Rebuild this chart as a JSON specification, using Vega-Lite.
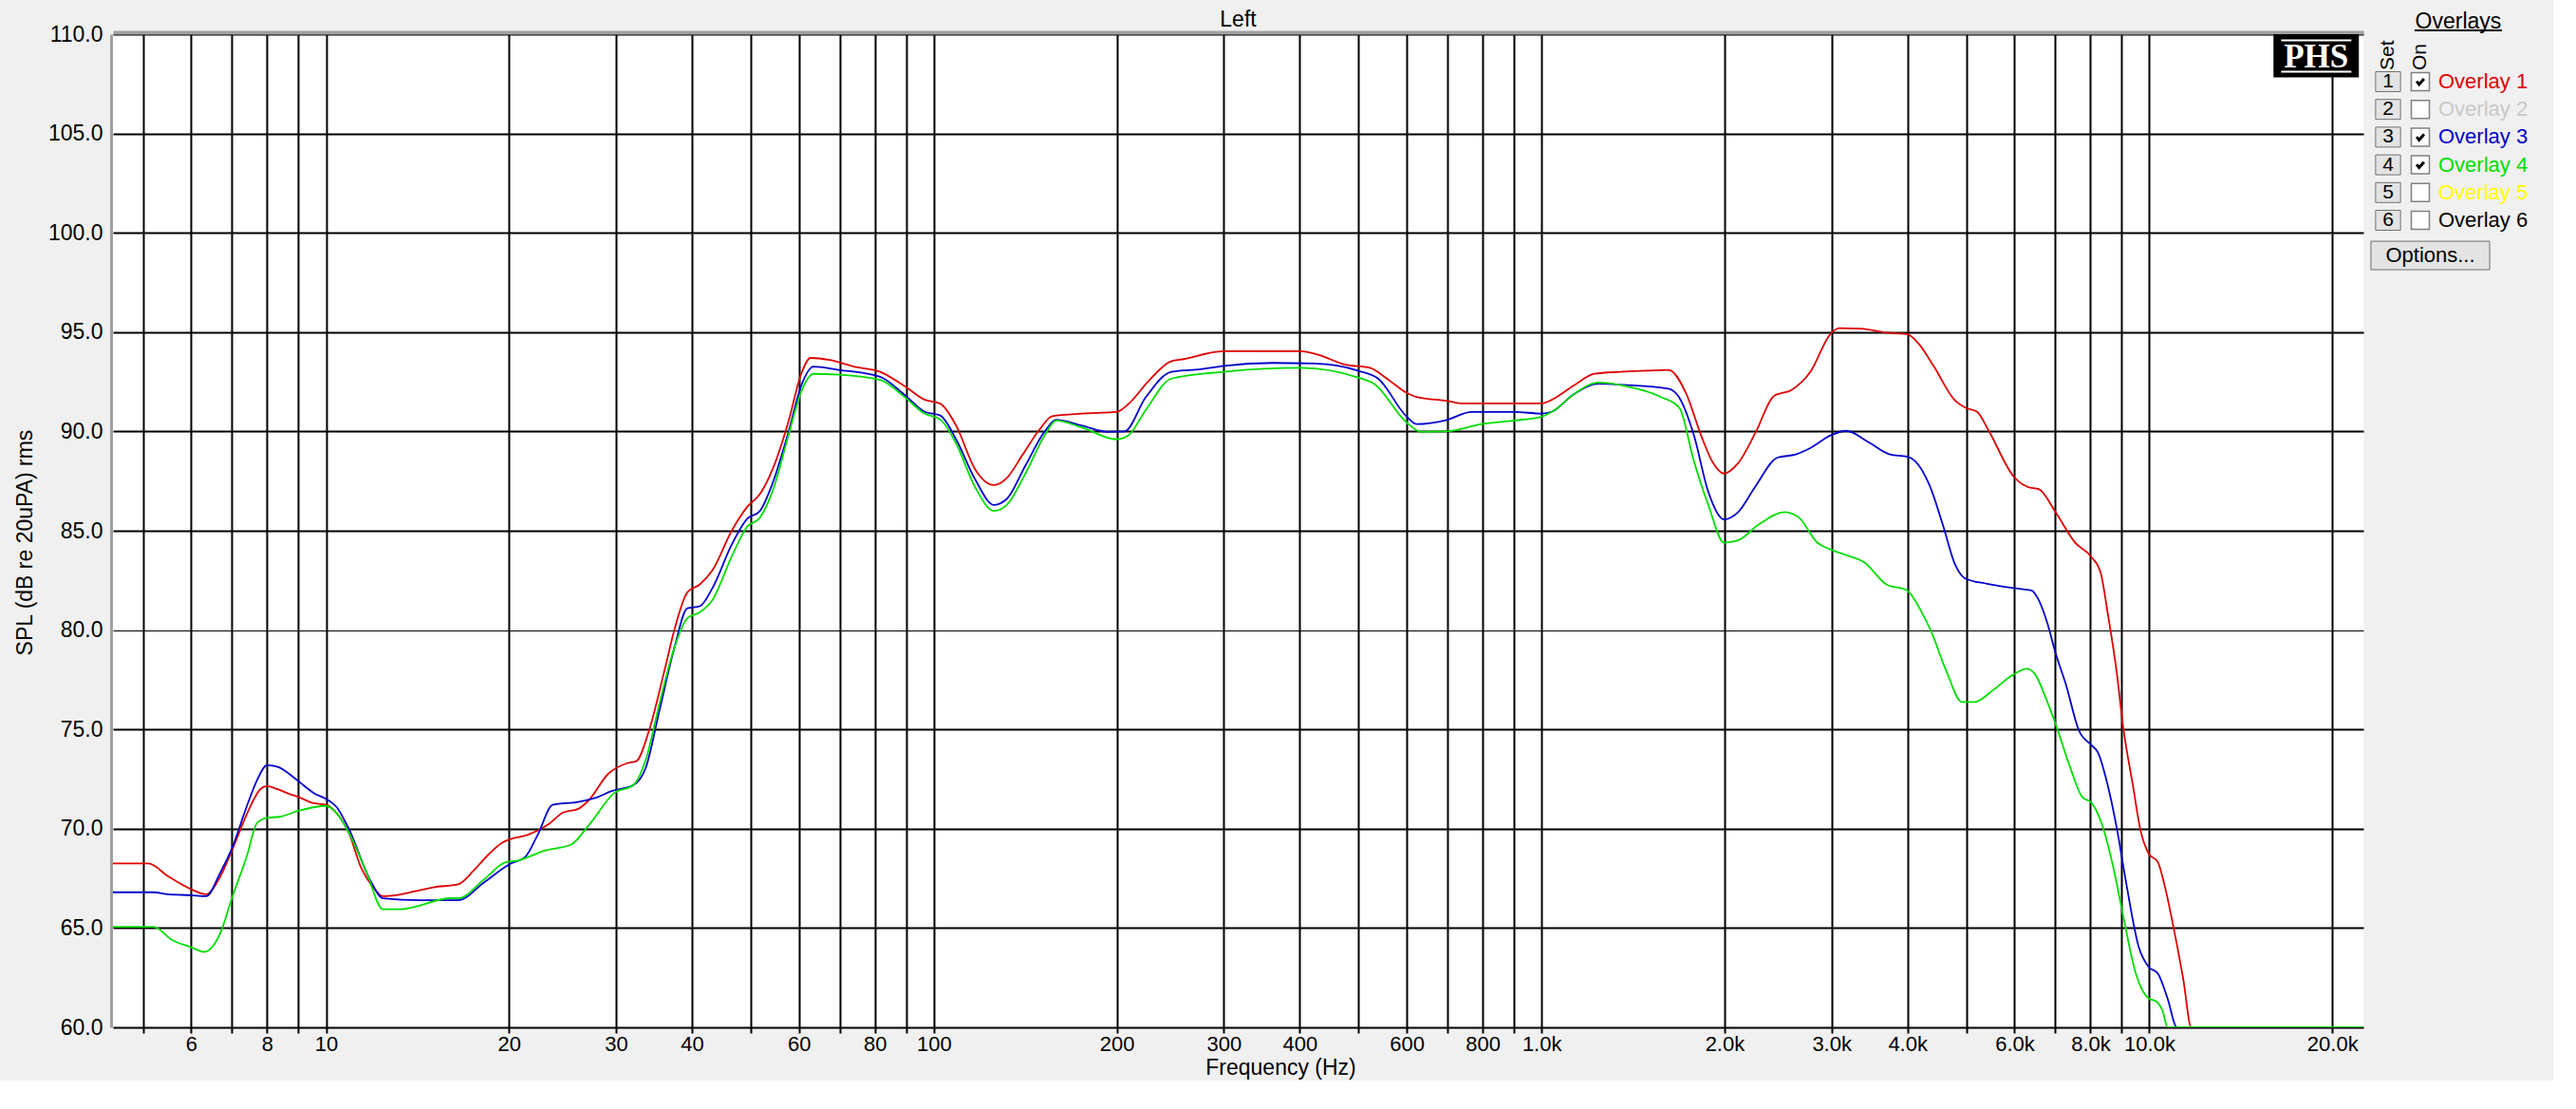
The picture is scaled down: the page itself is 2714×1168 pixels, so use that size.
{
  "$schema": "https://vega.github.io/schema/vega-lite/v6.json",
  "background": "#f0f0f0",
  "padding": {"left": 15, "top": 10, "right": 26, "bottom": 2},
  "autosize": {"type": "pad"},
  "bounds": "flush",
  "spacing": 8,
  "config": {
    "font": "Liberation Sans",
    "view": {"stroke": null},
    "title": {"font": "Liberation Sans"},
    "axis": {"labelFont": "Liberation Sans", "titleFont": "Liberation Sans"}
  },
  "datasets": {
    "spl": [
      {"series":"Overlay 1","freq":4.46,"spl":68.25},{"series":"Overlay 1","freq":5.1,"spl":68.25},{"series":"Overlay 1","freq":5.5,"spl":67.6},{"series":"Overlay 1","freq":6.0,"spl":66.95},{"series":"Overlay 1","freq":6.35,"spl":66.7},{"series":"Overlay 1","freq":6.7,"spl":67.6},{"series":"Overlay 1","freq":7.0,"spl":68.9},{"series":"Overlay 1","freq":7.5,"spl":71.1},{"series":"Overlay 1","freq":7.8,"spl":72.0},{"series":"Overlay 1","freq":8.0,"spl":72.15},{"series":"Overlay 1","freq":8.3,"spl":72.0},{"series":"Overlay 1","freq":8.7,"spl":71.75},{"series":"Overlay 1","freq":9.0,"spl":71.6},{"series":"Overlay 1","freq":9.5,"spl":71.3},{"series":"Overlay 1","freq":10.0,"spl":71.2},{"series":"Overlay 1","freq":10.4,"spl":70.8},{"series":"Overlay 1","freq":10.9,"spl":69.8},{"series":"Overlay 1","freq":11.4,"spl":68.1},{"series":"Overlay 1","freq":12.0,"spl":67.0},{"series":"Overlay 1","freq":12.4,"spl":66.6},{"series":"Overlay 1","freq":13.0,"spl":66.65},{"series":"Overlay 1","freq":14.0,"spl":66.85},{"series":"Overlay 1","freq":15.0,"spl":67.05},{"series":"Overlay 1","freq":16.5,"spl":67.2},{"series":"Overlay 1","freq":17.5,"spl":67.9},{"series":"Overlay 1","freq":18.5,"spl":68.7},{"series":"Overlay 1","freq":19.5,"spl":69.3},{"series":"Overlay 1","freq":20.0,"spl":69.45},{"series":"Overlay 1","freq":21.5,"spl":69.7},{"series":"Overlay 1","freq":23.3,"spl":70.25},{"series":"Overlay 1","freq":24.5,"spl":70.8},{"series":"Overlay 1","freq":26.0,"spl":71.0},{"series":"Overlay 1","freq":27.0,"spl":71.4},{"series":"Overlay 1","freq":29.1,"spl":72.75},{"series":"Overlay 1","freq":31.3,"spl":73.3},{"series":"Overlay 1","freq":32.4,"spl":73.4},{"series":"Overlay 1","freq":34.0,"spl":74.95},{"series":"Overlay 1","freq":36.1,"spl":78.05},{"series":"Overlay 1","freq":37.45,"spl":80.05},{"series":"Overlay 1","freq":39.3,"spl":81.9},{"series":"Overlay 1","freq":41.2,"spl":82.3},{"series":"Overlay 1","freq":43.2,"spl":83.0},{"series":"Overlay 1","freq":46.5,"spl":85.0},{"series":"Overlay 1","freq":49.3,"spl":86.2},{"series":"Overlay 1","freq":51.75,"spl":86.85},{"series":"Overlay 1","freq":54.3,"spl":88.1},{"series":"Overlay 1","freq":57.65,"spl":90.5},{"series":"Overlay 1","freq":60.5,"spl":92.9},{"series":"Overlay 1","freq":62.7,"spl":93.7},{"series":"Overlay 1","freq":67.4,"spl":93.6},{"series":"Overlay 1","freq":74.2,"spl":93.25},{"series":"Overlay 1","freq":81.6,"spl":93.0},{"series":"Overlay 1","freq":89.8,"spl":92.25},{"series":"Overlay 1","freq":96.5,"spl":91.6},{"series":"Overlay 1","freq":102.5,"spl":91.4},{"series":"Overlay 1","freq":108.8,"spl":90.3},{"series":"Overlay 1","freq":116.9,"spl":88.1},{"series":"Overlay 1","freq":125.6,"spl":87.3},{"series":"Overlay 1","freq":131.8,"spl":87.65},{"series":"Overlay 1","freq":140,"spl":88.83},{"series":"Overlay 1","freq":149.3,"spl":90.1},{"series":"Overlay 1","freq":156.6,"spl":90.77},{"series":"Overlay 1","freq":175.3,"spl":90.9},{"series":"Overlay 1","freq":200,"spl":90.98},{"series":"Overlay 1","freq":209,"spl":91.38},{"series":"Overlay 1","freq":225,"spl":92.5},{"series":"Overlay 1","freq":245.5,"spl":93.53},{"series":"Overlay 1","freq":257.6,"spl":93.64},{"series":"Overlay 1","freq":300,"spl":94.04},{"series":"Overlay 1","freq":401,"spl":94.04},{"series":"Overlay 1","freq":430,"spl":93.85},{"series":"Overlay 1","freq":474,"spl":93.37},{"series":"Overlay 1","freq":522,"spl":93.2},{"series":"Overlay 1","freq":557,"spl":92.65},{"series":"Overlay 1","freq":600,"spl":91.94},{"series":"Overlay 1","freq":623,"spl":91.73},{"series":"Overlay 1","freq":698,"spl":91.54},{"series":"Overlay 1","freq":743,"spl":91.41},{"series":"Overlay 1","freq":1000,"spl":91.41},{"series":"Overlay 1","freq":1041,"spl":91.6},{"series":"Overlay 1","freq":1128,"spl":92.3},{"series":"Overlay 1","freq":1222,"spl":92.9},{"series":"Overlay 1","freq":1345,"spl":93.0},{"series":"Overlay 1","freq":1489,"spl":93.06},{"series":"Overlay 1","freq":1617,"spl":93.1},{"series":"Overlay 1","freq":1732,"spl":91.86},{"series":"Overlay 1","freq":1830,"spl":89.8},{"series":"Overlay 1","freq":1908,"spl":88.5},{"series":"Overlay 1","freq":1996,"spl":87.88},{"series":"Overlay 1","freq":2100,"spl":88.36},{"series":"Overlay 1","freq":2250,"spl":89.95},{"series":"Overlay 1","freq":2410,"spl":91.78},{"series":"Overlay 1","freq":2582,"spl":92.1},{"series":"Overlay 1","freq":2766,"spl":92.98},{"series":"Overlay 1","freq":2987,"spl":94.9},{"series":"Overlay 1","freq":3087,"spl":95.2},{"series":"Overlay 1","freq":3353,"spl":95.18},{"series":"Overlay 1","freq":3692,"spl":94.97},{"series":"Overlay 1","freq":3993,"spl":94.9},{"series":"Overlay 1","freq":4178,"spl":94.4},{"series":"Overlay 1","freq":4414,"spl":93.3},{"series":"Overlay 1","freq":4795,"spl":91.54},{"series":"Overlay 1","freq":4977,"spl":91.2},{"series":"Overlay 1","freq":5208,"spl":90.99},{"series":"Overlay 1","freq":5427,"spl":90.1},{"series":"Overlay 1","freq":5993,"spl":87.7},{"series":"Overlay 1","freq":6315,"spl":87.2},{"series":"Overlay 1","freq":6580,"spl":87.1},{"series":"Overlay 1","freq":7000,"spl":85.97},{"series":"Overlay 1","freq":7551,"spl":84.4},{"series":"Overlay 1","freq":8020,"spl":83.7},{"series":"Overlay 1","freq":8314,"spl":82.9},{"series":"Overlay 1","freq":8546,"spl":80.8},{"series":"Overlay 1","freq":8844,"spl":77.8},{"series":"Overlay 1","freq":9057,"spl":75.1},{"series":"Overlay 1","freq":9389,"spl":72.25},{"series":"Overlay 1","freq":9674,"spl":69.9},{"series":"Overlay 1","freq":9968,"spl":68.76},{"series":"Overlay 1","freq":10334,"spl":68.3},{"series":"Overlay 1","freq":10585,"spl":67.2},{"series":"Overlay 1","freq":10973,"spl":64.95},{"series":"Overlay 1","freq":11375,"spl":62.4},{"series":"Overlay 1","freq":11721,"spl":60.0},{"series":"Overlay 1","freq":22400,"spl":60.0},

      {"series":"Overlay 3","freq":4.46,"spl":66.8},{"series":"Overlay 3","freq":5.2,"spl":66.8},{"series":"Overlay 3","freq":5.5,"spl":66.7},{"series":"Overlay 3","freq":6.0,"spl":66.65},{"series":"Overlay 3","freq":6.35,"spl":66.6},{"series":"Overlay 3","freq":6.7,"spl":67.8},{"series":"Overlay 3","freq":7.0,"spl":69.0},{"series":"Overlay 3","freq":7.4,"spl":71.1},{"series":"Overlay 3","freq":7.7,"spl":72.45},{"series":"Overlay 3","freq":8.0,"spl":73.2},{"series":"Overlay 3","freq":8.35,"spl":73.1},{"series":"Overlay 3","freq":8.66,"spl":72.8},{"series":"Overlay 3","freq":9.0,"spl":72.4},{"series":"Overlay 3","freq":9.6,"spl":71.75},{"series":"Overlay 3","freq":10.0,"spl":71.5},{"series":"Overlay 3","freq":10.4,"spl":71.1},{"series":"Overlay 3","freq":10.9,"spl":70.0},{"series":"Overlay 3","freq":11.8,"spl":67.45},{"series":"Overlay 3","freq":12.4,"spl":66.5},{"series":"Overlay 3","freq":14.3,"spl":66.4},{"series":"Overlay 3","freq":16.5,"spl":66.4},{"series":"Overlay 3","freq":18.2,"spl":67.3},{"series":"Overlay 3","freq":20.0,"spl":68.2},{"series":"Overlay 3","freq":21.3,"spl":68.6},{"series":"Overlay 3","freq":22.3,"spl":69.7},{"series":"Overlay 3","freq":23.6,"spl":71.2},{"series":"Overlay 3","freq":26.0,"spl":71.35},{"series":"Overlay 3","freq":27.8,"spl":71.56},{"series":"Overlay 3","freq":29.5,"spl":71.9},{"series":"Overlay 3","freq":32.05,"spl":72.2},{"series":"Overlay 3","freq":33.6,"spl":73.1},{"series":"Overlay 3","freq":35.3,"spl":75.85},{"series":"Overlay 3","freq":37.45,"spl":79.15},{"series":"Overlay 3","freq":39.3,"spl":81.1},{"series":"Overlay 3","freq":41.2,"spl":81.2},{"series":"Overlay 3","freq":43.2,"spl":82.1},{"series":"Overlay 3","freq":46.5,"spl":84.3},{"series":"Overlay 3","freq":49.3,"spl":85.6},{"series":"Overlay 3","freq":51.75,"spl":86.0},{"series":"Overlay 3","freq":54.3,"spl":87.4},{"series":"Overlay 3","freq":57.65,"spl":89.96},{"series":"Overlay 3","freq":60.5,"spl":92.3},{"series":"Overlay 3","freq":63.4,"spl":93.26},{"series":"Overlay 3","freq":69.8,"spl":93.1},{"series":"Overlay 3","freq":81.6,"spl":92.75},{"series":"Overlay 3","freq":89.8,"spl":91.8},{"series":"Overlay 3","freq":96.5,"spl":91.0},{"series":"Overlay 3","freq":102.5,"spl":90.8},{"series":"Overlay 3","freq":108.8,"spl":89.6},{"series":"Overlay 3","freq":116.9,"spl":87.6},{"series":"Overlay 3","freq":125.6,"spl":86.3},{"series":"Overlay 3","freq":131.8,"spl":86.6},{"series":"Overlay 3","freq":141.6,"spl":88.3},{"series":"Overlay 3","freq":152.2,"spl":90.0},{"series":"Overlay 3","freq":159,"spl":90.58},{"series":"Overlay 3","freq":175,"spl":90.3},{"series":"Overlay 3","freq":193,"spl":89.98},{"series":"Overlay 3","freq":206,"spl":90.0},{"series":"Overlay 3","freq":223,"spl":91.7},{"series":"Overlay 3","freq":246,"spl":93.0},{"series":"Overlay 3","freq":275,"spl":93.13},{"series":"Overlay 3","freq":300,"spl":93.3},{"series":"Overlay 3","freq":361,"spl":93.45},{"series":"Overlay 3","freq":424,"spl":93.42},{"series":"Overlay 3","freq":500,"spl":93.05},{"series":"Overlay 3","freq":539,"spl":92.65},{"series":"Overlay 3","freq":600,"spl":90.74},{"series":"Overlay 3","freq":623,"spl":90.37},{"series":"Overlay 3","freq":698,"spl":90.58},{"series":"Overlay 3","freq":767,"spl":90.98},{"series":"Overlay 3","freq":902,"spl":90.98},{"series":"Overlay 3","freq":1000,"spl":90.9},{"series":"Overlay 3","freq":1041,"spl":91.0},{"series":"Overlay 3","freq":1128,"spl":91.86},{"series":"Overlay 3","freq":1242,"spl":92.4},{"series":"Overlay 3","freq":1367,"spl":92.34},{"series":"Overlay 3","freq":1617,"spl":92.15},{"series":"Overlay 3","freq":1685,"spl":91.7},{"series":"Overlay 3","freq":1781,"spl":89.8},{"series":"Overlay 3","freq":1882,"spl":86.93},{"series":"Overlay 3","freq":1996,"spl":85.57},{"series":"Overlay 3","freq":2100,"spl":85.9},{"series":"Overlay 3","freq":2250,"spl":87.25},{"series":"Overlay 3","freq":2443,"spl":88.68},{"series":"Overlay 3","freq":2618,"spl":88.84},{"series":"Overlay 3","freq":2766,"spl":89.16},{"series":"Overlay 3","freq":2987,"spl":89.8},{"series":"Overlay 3","freq":3173,"spl":90.03},{"series":"Overlay 3","freq":3447,"spl":89.47},{"series":"Overlay 3","freq":3743,"spl":88.84},{"series":"Overlay 3","freq":3993,"spl":88.73},{"series":"Overlay 3","freq":4121,"spl":88.5},{"series":"Overlay 3","freq":4354,"spl":87.25},{"series":"Overlay 3","freq":4570,"spl":85.33},{"series":"Overlay 3","freq":4795,"spl":83.27},{"series":"Overlay 3","freq":4977,"spl":82.6},{"series":"Overlay 3","freq":5411,"spl":82.33},{"series":"Overlay 3","freq":6026,"spl":82.1},{"series":"Overlay 3","freq":6400,"spl":82.0},{"series":"Overlay 3","freq":6555,"spl":81.6},{"series":"Overlay 3","freq":6795,"spl":80.35},{"series":"Overlay 3","freq":7000,"spl":78.9},{"series":"Overlay 3","freq":7300,"spl":77.2},{"series":"Overlay 3","freq":7657,"spl":74.95},{"series":"Overlay 3","freq":8035,"spl":74.2},{"series":"Overlay 3","freq":8229,"spl":73.84},{"series":"Overlay 3","freq":8531,"spl":72.25},{"series":"Overlay 3","freq":8844,"spl":70.0},{"series":"Overlay 3","freq":9168,"spl":67.2},{"series":"Overlay 3","freq":9616,"spl":64.0},{"series":"Overlay 3","freq":9968,"spl":63.05},{"series":"Overlay 3","freq":10334,"spl":62.7},{"series":"Overlay 3","freq":10713,"spl":61.46},{"series":"Overlay 3","freq":11105,"spl":60.0},{"series":"Overlay 3","freq":22400,"spl":60.0},

      {"series":"Overlay 4","freq":4.46,"spl":65.06},{"series":"Overlay 4","freq":5.2,"spl":65.06},{"series":"Overlay 4","freq":5.58,"spl":64.4},{"series":"Overlay 4","freq":6.0,"spl":64.03},{"series":"Overlay 4","freq":6.3,"spl":63.8},{"series":"Overlay 4","freq":6.7,"spl":64.75},{"series":"Overlay 4","freq":7.0,"spl":66.5},{"series":"Overlay 4","freq":7.42,"spl":68.7},{"series":"Overlay 4","freq":7.7,"spl":70.3},{"series":"Overlay 4","freq":8.0,"spl":70.55},{"series":"Overlay 4","freq":8.4,"spl":70.6},{"series":"Overlay 4","freq":9.0,"spl":70.9},{"series":"Overlay 4","freq":10.0,"spl":71.15},{"series":"Overlay 4","freq":10.4,"spl":70.8},{"series":"Overlay 4","freq":10.9,"spl":69.8},{"series":"Overlay 4","freq":11.66,"spl":67.8},{"series":"Overlay 4","freq":12.4,"spl":65.95},{"series":"Overlay 4","freq":13.25,"spl":65.95},{"series":"Overlay 4","freq":16.05,"spl":66.5},{"series":"Overlay 4","freq":16.5,"spl":66.5},{"series":"Overlay 4","freq":18.2,"spl":67.45},{"series":"Overlay 4","freq":19.7,"spl":68.3},{"series":"Overlay 4","freq":20.7,"spl":68.4},{"series":"Overlay 4","freq":22.9,"spl":68.9},{"series":"Overlay 4","freq":25.3,"spl":69.2},{"series":"Overlay 4","freq":27.1,"spl":70.2},{"series":"Overlay 4","freq":29.8,"spl":71.8},{"series":"Overlay 4","freq":32.05,"spl":72.2},{"series":"Overlay 4","freq":33.6,"spl":73.5},{"series":"Overlay 4","freq":35.3,"spl":76.2},{"series":"Overlay 4","freq":37.45,"spl":79.15},{"series":"Overlay 4","freq":39.3,"spl":80.6},{"series":"Overlay 4","freq":41.2,"spl":80.9},{"series":"Overlay 4","freq":43.2,"spl":81.5},{"series":"Overlay 4","freq":46.5,"spl":83.7},{"series":"Overlay 4","freq":49.3,"spl":85.2},{"series":"Overlay 4","freq":51.75,"spl":85.66},{"series":"Overlay 4","freq":54.3,"spl":87.0},{"series":"Overlay 4","freq":57.65,"spl":89.8},{"series":"Overlay 4","freq":60.5,"spl":92.0},{"series":"Overlay 4","freq":63.4,"spl":92.9},{"series":"Overlay 4","freq":69.8,"spl":92.86},{"series":"Overlay 4","freq":81.6,"spl":92.6},{"series":"Overlay 4","freq":89.8,"spl":91.7},{"series":"Overlay 4","freq":96.5,"spl":90.9},{"series":"Overlay 4","freq":102.5,"spl":90.6},{"series":"Overlay 4","freq":108.8,"spl":89.4},{"series":"Overlay 4","freq":116.9,"spl":87.2},{"series":"Overlay 4","freq":125.6,"spl":86.0},{"series":"Overlay 4","freq":131.8,"spl":86.3},{"series":"Overlay 4","freq":141.6,"spl":87.9},{"series":"Overlay 4","freq":152.2,"spl":89.8},{"series":"Overlay 4","freq":159,"spl":90.55},{"series":"Overlay 4","freq":175,"spl":90.2},{"series":"Overlay 4","freq":200,"spl":89.6},{"series":"Overlay 4","freq":209,"spl":89.8},{"series":"Overlay 4","freq":223,"spl":91.06},{"series":"Overlay 4","freq":246,"spl":92.66},{"series":"Overlay 4","freq":300,"spl":93.0},{"series":"Overlay 4","freq":401,"spl":93.2},{"series":"Overlay 4","freq":500,"spl":92.7},{"series":"Overlay 4","freq":530,"spl":92.4},{"series":"Overlay 4","freq":600,"spl":90.45},{"series":"Overlay 4","freq":633,"spl":89.98},{"series":"Overlay 4","freq":698,"spl":90.0},{"series":"Overlay 4","freq":797,"spl":90.37},{"series":"Overlay 4","freq":902,"spl":90.55},{"series":"Overlay 4","freq":1000,"spl":90.74},{"series":"Overlay 4","freq":1058,"spl":91.14},{"series":"Overlay 4","freq":1128,"spl":91.86},{"series":"Overlay 4","freq":1242,"spl":92.46},{"series":"Overlay 4","freq":1367,"spl":92.3},{"series":"Overlay 4","freq":1574,"spl":91.73},{"series":"Overlay 4","freq":1685,"spl":91.2},{"series":"Overlay 4","freq":1781,"spl":88.5},{"series":"Overlay 4","freq":1882,"spl":86.27},{"series":"Overlay 4","freq":1996,"spl":84.4},{"series":"Overlay 4","freq":2100,"spl":84.5},{"series":"Overlay 4","freq":2281,"spl":85.33},{"series":"Overlay 4","freq":2511,"spl":85.94},{"series":"Overlay 4","freq":2654,"spl":85.65},{"series":"Overlay 4","freq":2843,"spl":84.4},{"series":"Overlay 4","freq":2987,"spl":84.06},{"series":"Overlay 4","freq":3173,"spl":83.77},{"series":"Overlay 4","freq":3400,"spl":83.4},{"series":"Overlay 4","freq":3692,"spl":82.3},{"series":"Overlay 4","freq":3993,"spl":82.0},{"series":"Overlay 4","freq":4207,"spl":80.98},{"series":"Overlay 4","freq":4361,"spl":80.03},{"series":"Overlay 4","freq":4630,"spl":77.97},{"series":"Overlay 4","freq":4917,"spl":76.38},{"series":"Overlay 4","freq":5157,"spl":76.38},{"series":"Overlay 4","freq":5542,"spl":77.0},{"series":"Overlay 4","freq":5954,"spl":77.73},{"series":"Overlay 4","freq":6286,"spl":78.05},{"series":"Overlay 4","freq":6477,"spl":77.8},{"series":"Overlay 4","freq":6795,"spl":76.38},{"series":"Overlay 4","freq":7041,"spl":75.1},{"series":"Overlay 4","freq":7387,"spl":73.2},{"series":"Overlay 4","freq":7752,"spl":71.6},{"series":"Overlay 4","freq":8035,"spl":71.3},{"series":"Overlay 4","freq":8328,"spl":70.35},{"series":"Overlay 4","freq":8737,"spl":67.97},{"series":"Overlay 4","freq":9057,"spl":65.6},{"series":"Overlay 4","freq":9502,"spl":62.7},{"series":"Overlay 4","freq":9968,"spl":61.46},{"series":"Overlay 4","freq":10271,"spl":61.3},{"series":"Overlay 4","freq":10522,"spl":60.8},{"series":"Overlay 4","freq":10713,"spl":60.0},{"series":"Overlay 4","freq":22400,"spl":60.0}
    ],
    "overlays": [
      {"n":1,"series":"Overlay 1","on":true},
      {"n":2,"series":"Overlay 2","on":false},
      {"n":3,"series":"Overlay 3","on":true},
      {"n":4,"series":"Overlay 4","on":true},
      {"n":5,"series":"Overlay 5","on":false},
      {"n":6,"series":"Overlay 6","on":false}
    ]
  },
  "hconcat": [
    {
      "width": 2371,
      "height": 1046,
      "view": {"fill": "white", "stroke": null},
      "title": {"text": "Left", "frame": "group", "anchor": "middle", "fontSize": 23, "fontWeight": "normal", "color": "black", "baseline": "alphabetic", "offset": -26},
      "resolve": {"axis": {"x": "independent"}},
      "layer": [
        {
          "data": {"name": "spl"},
          "mark": {"type": "line", "strokeWidth": 1.8, "clip": true, "interpolate": "monotone"},
          "encoding": {
            "x": {
              "field": "freq", "type": "quantitative",
              "scale": {"type": "log", "domain": [4.46, 22500], "nice": false},
              "axis": {
                "orient": "bottom",
                "values": [5,6,7,8,9,10,20,30,40,50,60,70,80,90,100,200,300,400,500,600,700,800,900,1000,2000,3000,4000,5000,6000,7000,8000,9000,10000,20000],
                "labelExpr": "indexof([5,7,9,50,70,90,500,700,900,5000,7000,9000], datum.value) >= 0 ? '' : (datum.value >= 1000 ? format(datum.value / 1000, '.1f') + 'k' : format(datum.value, 'd'))",
                "grid": true, "gridColor": "black", "gridWidth": 2, "gridOpacity": 1,
                "ticks": true, "tickColor": "black", "tickWidth": 2, "tickSize": 6,
                "domain": false,
                "labelFontSize": 22, "labelColor": "black", "labelPadding": 1,
                "labelOverlap": false, "labelBound": false, "labelFlush": false,
                "title": "Frequency (Hz)", "titleFontSize": 23, "titleFontWeight": "normal", "titleColor": "black",
                "titleX": 1230, "titleY": 49, "titleBaseline": "alphabetic", "titleAlign": "center"
              }
            },
            "y": {
              "field": "spl", "type": "quantitative",
              "scale": {"domain": [60, 110], "nice": false, "zero": false},
              "axis": {
                "values": [60,65,70,75,80,85,90,95,100,105,110],
                "format": ".1f",
                "grid": true, "gridColor": "black", "gridOpacity": 1,
                "gridWidth": {"condition": {"test": "datum.value === 80", "value": 1}, "value": 2},
                "ticks": false, "tickSize": 0,
                "domain": true, "domainColor": "#a0a0a0", "domainWidth": 3, "offset": 2,
                "labelFontSize": 23, "labelColor": "black", "labelPadding": 9,
                "title": "SPL (dB re 20uPA) rms", "titleFontSize": 23, "titleFontWeight": "normal", "titleColor": "black",
                "titleX": -91, "titleY": 535, "titleAngle": 270, "titleAlign": "center", "titleBaseline": "middle"
              }
            },
            "color": {
              "field": "series", "type": "nominal",
              "scale": {"domain": ["Overlay 1","Overlay 2","Overlay 3","Overlay 4","Overlay 5","Overlay 6"], "range": ["#dd0000","#c8c8c8","#0000cc","#00dd00","#ffff00","#000000"]},
              "legend": null
            }
          }
        },
        {
          "data": {"values": [{}]},
          "mark": {"type": "rect", "color": "black"},
          "encoding": {
            "x": {"datum": 16005, "type": "quantitative", "axis": {"orient": "top", "labels": false, "ticks": false, "grid": false, "domain": true, "domainColor": "#a0a0a0", "domainWidth": 4, "offset": 2, "title": null}},
            "x2": {"datum": 22117},
            "y": {"datum": 110, "type": "quantitative"},
            "y2": {"datum": 107.83}
          }
        },
        {
          "data": {"values": [{}]},
          "mark": {"type": "text", "text": "PHS", "font": "Liberation Serif", "fontWeight": "bold", "fontSize": 35, "color": "white", "align": "center", "baseline": "alphabetic"},
          "encoding": {
            "x": {"datum": 18815, "type": "quantitative", "axis": null},
            "y": {"datum": 108.35, "type": "quantitative"}
          }
        },
        {
          "data": {"values": [{}]},
          "mark": {"type": "rule", "color": "white", "strokeWidth": 2},
          "encoding": {
            "x": {"datum": 16480, "type": "quantitative", "axis": null},
            "x2": {"datum": 21500},
            "y": {"datum": 109.69, "type": "quantitative"}
          }
        },
        {
          "data": {"values": [{}]},
          "mark": {"type": "rule", "color": "white", "strokeWidth": 2},
          "encoding": {
            "x": {"datum": 16480, "type": "quantitative", "axis": null},
            "x2": {"datum": 21500},
            "y": {"datum": 108.11, "type": "quantitative"}
          }
        }
      ]
    },
    {
      "width": 104,
      "height": 260,
      "view": {"stroke": null},
      "data": {"name": "overlays"},
      "layer": [
        {
          "mark": {"type": "point", "shape": "M-1.25,-1H1.25V1H-1.25Z", "size": 441, "filled": true, "fill": "#e3e3e3", "stroke": "#707070", "strokeWidth": 1, "opacity": 1},
          "encoding": {
            "x": {"datum": "set", "type": "nominal", "scale": {"type": "point", "domain": ["set","on","label"], "padding": 0.53}, "axis": null},
            "y": {"field": "n", "type": "quantitative", "scale": {"domain": [-0.712, 8.192], "reverse": true, "nice": false, "zero": false}, "axis": null}
          }
        },
        {
          "mark": {"type": "text", "fontSize": 21, "color": "black", "align": "center", "baseline": "middle"},
          "encoding": {
            "x": {"datum": "set", "type": "nominal"},
            "y": {"field": "n", "type": "quantitative"},
            "text": {"field": "n", "type": "quantitative", "format": "d"}
          }
        },
        {
          "mark": {"type": "point", "shape": "M-1,-1H1V1H-1Z", "size": 361, "filled": true, "fill": "white", "stroke": "#808080", "strokeWidth": 1.5, "opacity": 1},
          "encoding": {
            "x": {"datum": "on", "type": "nominal"},
            "y": {"field": "n", "type": "quantitative"}
          }
        },
        {
          "transform": [{"filter": "datum.on"}],
          "mark": {"type": "point", "shape": "M-0.6,-0.05L-0.2,0.45L0.6,-0.45", "size": 169, "filled": false, "stroke": "black", "strokeWidth": 3, "opacity": 1},
          "encoding": {
            "x": {"datum": "on", "type": "nominal"},
            "y": {"field": "n", "type": "quantitative"}
          }
        },
        {
          "mark": {"type": "text", "fontSize": 22, "align": "left", "baseline": "middle", "dx": -15},
          "encoding": {
            "x": {"datum": "label", "type": "nominal"},
            "y": {"field": "n", "type": "quantitative"},
            "text": {"field": "series"},
            "color": {"field": "series", "type": "nominal", "legend": null}
          }
        },
        {
          "data": {"values": [{}]},
          "mark": {"type": "text", "text": "Set", "fontSize": 21, "color": "black", "angle": 270, "align": "left", "baseline": "middle"},
          "encoding": {
            "x": {"datum": "set", "type": "nominal"},
            "y": {"datum": 0.59, "type": "quantitative"}
          }
        },
        {
          "data": {"values": [{}]},
          "mark": {"type": "text", "text": "On", "fontSize": 21, "color": "black", "angle": 270, "align": "left", "baseline": "middle"},
          "encoding": {
            "x": {"datum": "on", "type": "nominal"},
            "y": {"datum": 0.59, "type": "quantitative"}
          }
        },
        {
          "data": {"values": [{}]},
          "mark": {"type": "text", "text": "Overlays", "fontSize": 23, "color": "black", "align": "center", "baseline": "middle", "dx": 6},
          "encoding": {
            "x": {"datum": "label", "type": "nominal"},
            "y": {"datum": -1.157, "type": "quantitative"}
          }
        },
        {
          "data": {"values": [{}]},
          "mark": {"type": "tick", "orient": "horizontal", "thickness": 2, "size": 92, "color": "black", "xOffset": 6, "opacity": 1},
          "encoding": {
            "x": {"datum": "label", "type": "nominal"},
            "y": {"datum": -0.849, "type": "quantitative"}
          }
        },
        {
          "data": {"values": [{}]},
          "mark": {"type": "point", "shape": "M-4.17,-1H4.17V1H-4.17Z", "size": 900, "filled": true, "fill": "#e3e3e3", "stroke": "#707070", "strokeWidth": 1, "opacity": 1, "xOffset": 10.5},
          "encoding": {
            "x": {"datum": "on", "type": "nominal"},
            "y": {"datum": 7.27, "type": "quantitative"}
          }
        },
        {
          "data": {"values": [{}]},
          "mark": {"type": "text", "text": "Options...", "fontSize": 22, "color": "black", "align": "center", "baseline": "middle", "dx": 10.5},
          "encoding": {
            "x": {"datum": "on", "type": "nominal"},
            "y": {"datum": 7.27, "type": "quantitative"}
          }
        }
      ]
    }
  ]
}
